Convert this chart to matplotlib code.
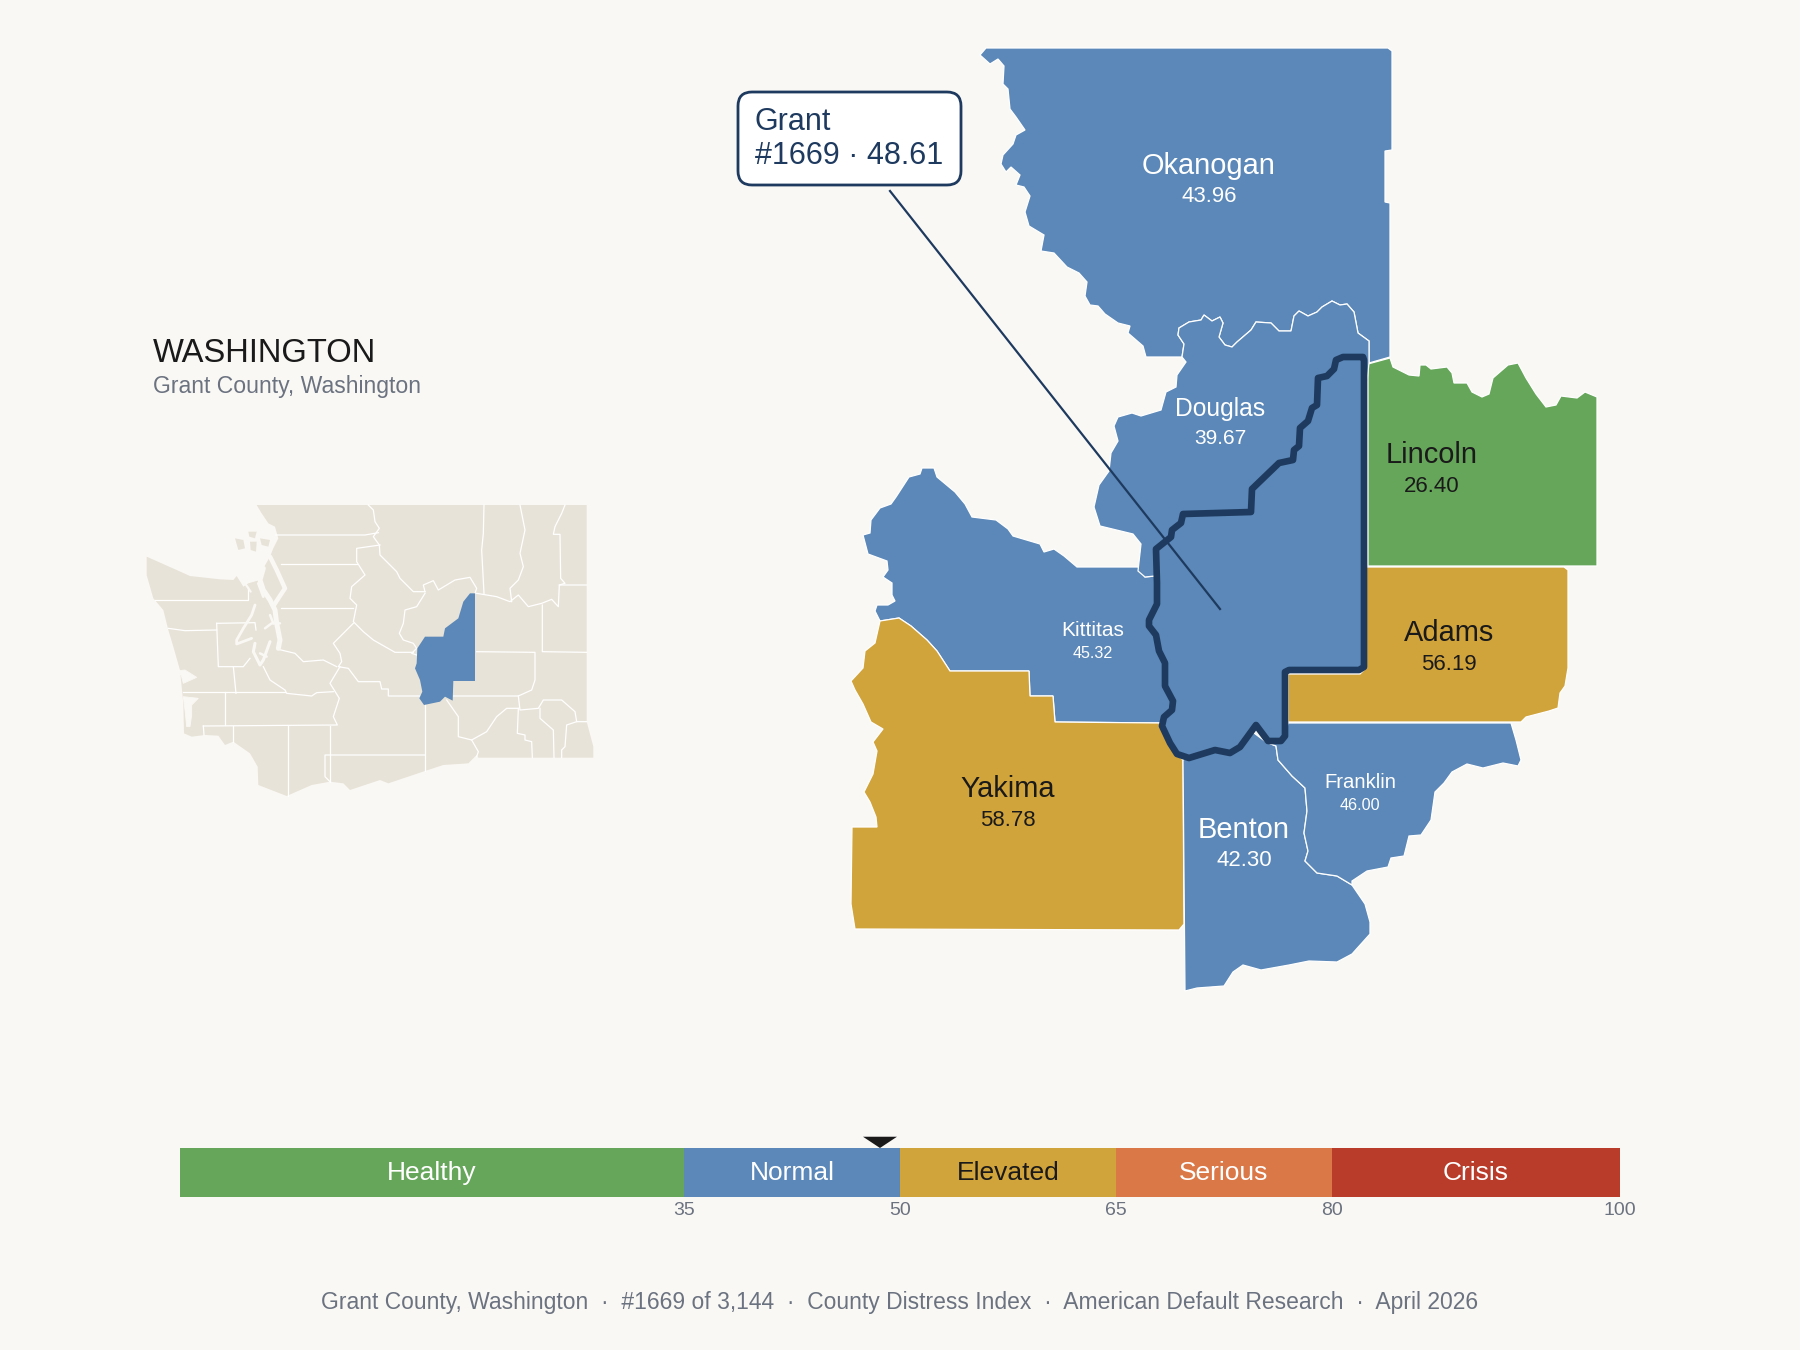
import matplotlib
matplotlib.use("Agg")
import matplotlib.pyplot as plt
from matplotlib.patches import Polygon, FancyBboxPatch

plt.rcParams['font.family'] = ['Liberation Sans', 'DejaVu Sans']

BG = '#faf8f4'
GREEN = '#66a65a'
BLUE = '#5b88b8'
GOLD = '#d1a33b'
ORANGE = '#db7848'
RED = '#b93b2a'
NAVY = '#1e3a5f'
INK = '#1a1a1a'
GRAY = '#6b7280'
LAND = '#e8e3d8'

# scale bar
band_names = ['Healthy', 'Normal', 'Elevated', 'Serious', 'Crisis']
band_edges = [0, 35, 50, 65, 80, 100]
band_colors = [GREEN, BLUE, GOLD, ORANGE, RED]
band_text = ['white', 'white', INK, 'white', 'white']
grant_score = 48.61

# county labels
county_names = ['Okanogan', 'Douglas', 'Lincoln', 'Kittitas', 'Adams', 'Yakima', 'Benton', 'Franklin']
county_scores = ['43.96', '39.67', '26.40', '45.32', '56.19', '58.78', '42.30', '46.00']
label_x = [1209, 1220, 1432, 1093, 1449, 1008, 1244, 1360]
name_y = [166, 409, 455, 630, 633, 789, 830, 783]
score_y = [196, 438, 486, 654, 664, 821, 861, 806]
name_size = [20.9, 17.7, 20.9, 15, 20.9, 20.9, 20.9, 14.6]
score_size = [16, 15, 16, 11.6, 16, 16, 16, 11.6]
label_color = ['white', 'white', INK, 'white', INK, INK, 'white', 'white']

douglas_top = [(1369, 363), (1369, 341), (1358, 333), (1354, 312), (1347, 304), (1340, 305), (1332, 301),
               (1322, 307), (1317, 312), (1308, 316), (1299, 311), (1294, 316), (1291, 331), (1279, 331),
               (1271, 323), (1256, 322), (1251, 330), (1237, 342), (1232, 347), (1225, 345), (1219, 337),
               (1223, 323), (1220, 317), (1212, 321), (1204, 315), (1201, 320), (1189, 322), (1179, 328),
               (1178, 335), (1184, 344), (1182, 357)]
okanogan_rest = [(1146, 357), (1143, 346), (1128, 333), (1130, 326), (1118, 323), (1105, 314), (1098, 306),
                 (1090, 305), (1085, 296), (1087, 282), (1079, 273), (1067, 267), (1054, 253), (1041, 251),
                 (1044, 235), (1029, 226), (1025, 212), (1030, 196), (1024, 187), (1016, 185), (1020, 175),
                 (1011, 167), (1006, 172), (1001, 164), (1003, 155), (1013, 144), (1016, 135), (1025, 130),
                 (1016, 117), (1010, 109), (1008, 89), (1003, 84), (1004, 66), (998, 59), (990, 64), (980, 55),
                 (986, 48), (1388, 48), (1392, 51), (1392, 150), (1385, 151), (1385, 202), (1390, 203), (1390, 357)]
douglas_rest = [(1186, 362), (1177, 375), (1176, 387), (1166, 392), (1161, 410), (1141, 416), (1132, 413),
                (1118, 417), (1114, 426), (1118, 441), (1111, 453), (1109, 471), (1099, 485), (1094, 507),
                (1100, 526), (1133, 534), (1141, 544), (1138, 571), (1145, 577), (1155, 576), (1250, 560), (1365, 400)]
kittitas_north = [(1138, 567), (1077, 567), (1064, 556), (1054, 549), (1044, 552), (1040, 544), (1013, 536),
                  (1008, 529), (996, 520), (972, 517), (965, 504), (955, 492), (937, 477), (934, 468), (922, 468),
                  (920, 474), (909, 477), (896, 497), (891, 504), (880, 508), (871, 520), (870, 533), (863, 535),
                  (868, 554), (887, 561), (888, 570), (883, 577), (892, 583), (892, 595), (895, 601), (888, 605),
                  (877, 605), (875, 611)]
kittitas_yakima = [(880, 621), (899, 618), (911, 626), (927, 640), (937, 651), (950, 671), (1029, 671), (1030, 696),
                   (1053, 696), (1055, 722), (1161, 723)]
kittitas_close = [(1200, 700), (1200, 600), (1155, 576), (1145, 577)]
yakima_rest = [(1177, 754), (1183, 760), (1184, 924), (1179, 930), (855, 929), (851, 904), (852, 827), (877, 827),
               (876, 817), (870, 802), (864, 792), (873, 774), (877, 751), (873, 742), (883, 729), (871, 722),
               (863, 704), (855, 690), (851, 681), (863, 668), (865, 651), (875, 643)]
benton_franklin = [(1266, 742), (1276, 746), (1278, 760), (1292, 776), (1305, 788), (1307, 811), (1304, 833),
                   (1308, 851), (1305, 861), (1317, 873), (1337, 876), (1352, 885)]
benton_rest = [(1365, 904), (1370, 922), (1370, 934), (1352, 954), (1337, 962), (1309, 961), (1289, 965), (1261, 970),
               (1243, 965), (1233, 972), (1224, 986), (1197, 988), (1185, 991), (1183, 760), (1250, 730)]
franklin_rest = [(1352, 881), (1367, 871), (1388, 867), (1391, 858), (1404, 856), (1409, 836), (1421, 835), (1431, 820),
                 (1435, 792), (1444, 783), (1452, 772), (1467, 764), (1483, 768), (1503, 763), (1518, 766), (1521, 760),
                 (1516, 740), (1511, 723), (1288, 723), (1285, 736)]
adams = [(1366, 567), (1564, 567), (1568, 570), (1568, 668), (1565, 686), (1560, 693), (1558, 708), (1549, 711),
         (1526, 717), (1521, 722), (1288, 722), (1288, 674), (1360, 674), (1366, 668)]
lincoln = [(1368, 364), (1390, 358), (1393, 367), (1409, 375), (1419, 376), (1420, 365), (1426, 365), (1431, 369),
           (1447, 367), (1452, 373), (1454, 383), (1467, 383), (1472, 392), (1482, 397), (1489, 394), (1493, 378),
           (1508, 365), (1518, 363), (1526, 378), (1536, 394), (1546, 407), (1556, 405), (1561, 396), (1577, 398),
           (1585, 392), (1597, 397), (1597, 566), (1368, 566)]
grant = [(1363, 357), (1343, 357), (1336, 360), (1334, 369), (1327, 376), (1318, 378), (1317, 405), (1312, 408),
         (1308, 421), (1300, 428), (1299, 446), (1294, 450), (1293, 460), (1279, 463), (1252, 489), (1251, 512),
         (1183, 514), (1181, 523), (1172, 530), (1171, 537), (1156, 549), (1157, 583), (1157, 604), (1149, 620),
         (1149, 626), (1156, 635), (1159, 651), (1165, 663), (1165, 686), (1173, 701), (1172, 710), (1164, 717),
         (1162, 726), (1170, 743), (1177, 754), (1189, 758), (1215, 750), (1230, 753), (1240, 747), (1256, 725),
         (1268, 741), (1281, 741), (1285, 736), (1285, 672), (1289, 670), (1359, 670), (1364, 667), (1364, 360)]

# inset, traced on a 1440x960 grid covering the inset box
state_outline = [(380, 45), (1370, 45), (1370, 695), (1390, 770), (1390, 803), (1045, 803), (1040, 795), (1015, 820),
                 (940, 825), (885, 843), (775, 880), (750, 870), (660, 900), (640, 880), (600, 875), (545, 885),
                 (470, 918), (385, 885), (383, 830), (360, 790), (310, 755), (285, 765), (265, 737), (225, 735),
                 (185, 740), (162, 730), (160, 640), (150, 540), (130, 470), (115, 420), (100, 360), (70, 325),
                 (50, 255), (50, 200), (140, 240), (180, 258), (270, 268), (310, 270), (320, 258), (340, 290),
                 (355, 280), (390, 270), (400, 235), (420, 200), (430, 175), (445, 145), (435, 110), (415, 100), (395, 70)]
inset_lines = [
    [(715, 45), (730, 60), (735, 95), (748, 115), (730, 140), (748, 165), (750, 195), (775, 220), (800, 245), (810, 265), (850, 305), (885, 305)],
    [(438, 135), (705, 135), (745, 128)],
    [(452, 222), (680, 222)],
    [(750, 165), (680, 175), (680, 215), (705, 255), (665, 290), (660, 325), (680, 345), (670, 395), (700, 425), (730, 450), (795, 487), (850, 487)],
    [(885, 305), (880, 285), (910, 272), (925, 300), (975, 270), (1020, 262), (1040, 295), (1035, 310)],
    [(885, 310), (860, 350), (825, 360), (820, 400), (808, 430), (820, 450), (850, 460), (860, 475), (845, 490), (860, 495)],
    [(452, 355), (670, 355)],
    [(445, 478), (495, 490), (520, 515), (580, 510), (620, 530)],
    [(670, 400), (610, 460), (630, 490), (635, 515), (625, 530), (655, 535), (685, 575), (750, 575), (755, 597), (775, 597), (775, 618), (870, 618)],
    [(400, 530), (420, 570), (465, 600), (470, 610), (545, 618), (560, 608), (610, 605)],
    [(630, 530), (600, 580), (628, 625), (610, 680), (622, 705), (220, 708)],
    [(285, 605), (285, 705)],
    [(160, 605), (465, 605)],
    [(310, 530), (318, 610)],
    [(260, 400), (265, 530), (340, 530), (360, 505)],
    [(260, 400), (375, 398), (378, 420)],
    [(115, 415), (165, 422), (260, 420)],
    [(75, 330), (355, 330), (355, 290)],
    [(308, 708), (308, 755)],
    [(220, 708), (222, 735)],
    [(475, 708), (475, 918)],
    [(600, 708), (600, 875)],
    [(885, 795), (585, 795), (585, 860), (600, 875)],
    [(885, 643), (885, 843)],
    [(950, 630), (985, 680), (985, 740), (1025, 750), (1045, 785), (1040, 800)],
    [(1025, 750), (1070, 725), (1100, 680), (1130, 655), (1165, 655)],
    [(970, 618), (1165, 618), (1205, 600), (1215, 570), (1215, 487), (1040, 485)],
    [(1237, 345), (1237, 485), (1370, 487)],
    [(1040, 310), (1100, 320), (1140, 335), (1165, 315), (1195, 350), (1235, 340), (1265, 328), (1285, 350), (1288, 285), (1370, 285)],
    [(1062, 45), (1060, 130), (1055, 180), (1062, 310)],
    [(1170, 45), (1185, 120), (1170, 190), (1180, 230), (1165, 270), (1140, 295), (1145, 335)],
    [(1305, 45), (1295, 70), (1275, 110), (1270, 133), (1290, 133), (1292, 265), (1305, 280), (1288, 285)],
    [(1165, 618), (1170, 660), (1225, 655), (1240, 630), (1295, 630), (1335, 665), (1340, 695), (1370, 695)],
    [(1230, 655), (1230, 685), (1270, 720), (1272, 803)],
    [(1165, 655), (1162, 730), (1185, 735), (1185, 750), (1205, 755), (1207, 803)],
    [(1340, 695), (1310, 705), (1305, 770), (1295, 780), (1295, 803)],
]
inset_water = [
    [(145, 542), (165, 540), (200, 562), (160, 580), (155, 560)],
    [(160, 620), (205, 625), (185, 645), (185, 675), (180, 710), (170, 710), (165, 660)],
]
# Puget Sound channels, drawn as strokes: (points, width)
sound_channels = [
    ([(375, 345), (365, 375), (340, 415), (320, 450), (320, 462), (365, 445)], 2.0),
    ([(400, 235), (390, 270), (400, 300), (420, 330), (435, 360), (440, 400), (450, 450), (445, 475)], 3.6),
    ([(420, 200), (440, 240), (465, 295), (445, 325), (432, 345)], 3.2),
    ([(375, 460), (370, 485), (390, 525), (400, 510), (420, 455)], 2.2),
    ([(390, 490), (410, 500)], 1.8),
    ([(405, 415), (425, 400), (450, 400)], 1.8),
    ([(420, 375), (430, 400)], 1.8),
    ([(345, 280), (362, 305)], 1.6),
    ([(385, 280), (400, 320)], 2.0),
]
san_juans = [
    [(315, 145), (340, 150), (345, 175), (325, 180)],
    [(355, 125), (380, 125), (375, 145), (358, 140)],
    [(360, 155), (380, 155), (378, 185), (362, 180)],
    [(390, 145), (420, 150), (415, 170), (395, 165)],
]
inset_grant = [(1035, 310), (1020, 310), (1000, 335), (985, 385), (945, 415), (940, 440), (885, 440), (862, 475), (860, 520),
               (855, 535), (870, 570), (877, 605), (868, 625), (882, 645), (930, 635), (945, 620), (968, 632), (970, 573), (1035, 573)]

fig = plt.figure(figsize=(18, 13.5), dpi=100, facecolor=BG)

ax = fig.add_axes([0, 0, 1, 1])
ax.set_xlim(0, 1800)
ax.set_ylim(1350, 0)
ax.axis('off')

counties = [
    (douglas_top + okanogan_rest, BLUE),
    (kittitas_north + kittitas_yakima + kittitas_close, BLUE),
    (kittitas_yakima + yakima_rest, GOLD),
    (benton_franklin + benton_rest, BLUE),
    (benton_franklin + franklin_rest, BLUE),
    (adams, GOLD),
    (lincoln, GREEN),
    (douglas_top + douglas_rest, BLUE),
]
for pts, color in counties:
    ax.add_patch(Polygon(pts, closed=True, facecolor=color, edgecolor='white', linewidth=0.9, zorder=2))
ax.add_patch(Polygon(grant, closed=True, facecolor=BLUE, edgecolor=NAVY, linewidth=4.8,
                     joinstyle='round', zorder=3))

for i, name in enumerate(county_names):
    ax.text(label_x[i], name_y[i], name, color=label_color[i], fontsize=name_size[i], ha='center', va='center', zorder=5)
    ax.text(label_x[i], score_y[i], county_scores[i], color=label_color[i], fontsize=score_size[i], ha='center', va='center', zorder=5)

# callout
ax.plot([890, 1220], [191, 609], color=NAVY, linewidth=1.6, zorder=4)
ax.add_patch(FancyBboxPatch((752, 106), 195, 65, boxstyle='round,pad=14,rounding_size=14',
                            facecolor='white', edgecolor=NAVY, linewidth=2, zorder=6))
ax.text(755, 122, 'Grant', color=NAVY, fontsize=22, ha='left', va='center', zorder=7)
ax.text(755, 156, '#1669 · 48.61', color=NAVY, fontsize=22, ha='left', va='center', zorder=7)

ax.text(153, 353, 'WASHINGTON', color=INK, fontsize=23.6, ha='left', va='center')
ax.text(153, 387, 'Grant County, Washington', color=GRAY, fontsize=16.6, ha='left', va='center')
ax.text(900, 1302, 'Grant County, Washington  ·  #1669 of 3,144  ·  County Distress Index  ·  American Default Research  ·  April 2026',
        color=GRAY, fontsize=16.5, ha='center', va='center')

# inset locator
inset = fig.add_axes([130 / 1800, 1 - 810 / 1350, 480 / 1800, 320 / 1350])
inset.set_xlim(0, 1440)
inset.set_ylim(960, 0)
inset.axis('off')
inset.add_patch(Polygon(state_outline, closed=True, facecolor=LAND, edgecolor='none'))
for line in inset_lines:
    xs, ys = zip(*line)
    inset.plot(xs, ys, color='white', linewidth=0.9, solid_joinstyle='round')
for pts in inset_water:
    inset.add_patch(Polygon(pts, closed=True, facecolor=BG, edgecolor=BG, linewidth=0.6))
for pts, width in sound_channels:
    xs, ys = zip(*pts)
    inset.plot(xs, ys, color=BG, linewidth=width, solid_capstyle='round', solid_joinstyle='round')
for pts in san_juans:
    inset.add_patch(Polygon(pts, closed=True, facecolor=LAND, edgecolor='none'))
inset.add_patch(Polygon(inset_grant, closed=True, facecolor=BLUE, edgecolor='none', zorder=4))

# scale bar, x axis is the score itself
bar = fig.add_axes([180 / 1800, 1 - 1197 / 1350, 1440 / 1800, 49 / 1350])
bar.set_xlim(0, 100)
bar.set_ylim(0, 1)
bar.axis('off')
for i, name in enumerate(band_names):
    left, right = band_edges[i], band_edges[i + 1]
    bar.barh(0.5, right - left, left=left, height=1, color=band_colors[i], linewidth=0)
    bar.text((left + right) / 2, 0.49, name, color=band_text[i], fontsize=19, ha='center', va='center')
for edge in band_edges[1:]:
    bar.text(edge, -0.27, str(edge), color=GRAY, fontsize=14, ha='center', va='center', clip_on=False)
bar.add_patch(Polygon([(grant_score - 1.18, 1.23), (grant_score + 1.18, 1.23), (grant_score, 1.0)], closed=True,
                      facecolor=INK, edgecolor='none', clip_on=False))

fig.savefig('out.png', dpi=100, facecolor=BG)
